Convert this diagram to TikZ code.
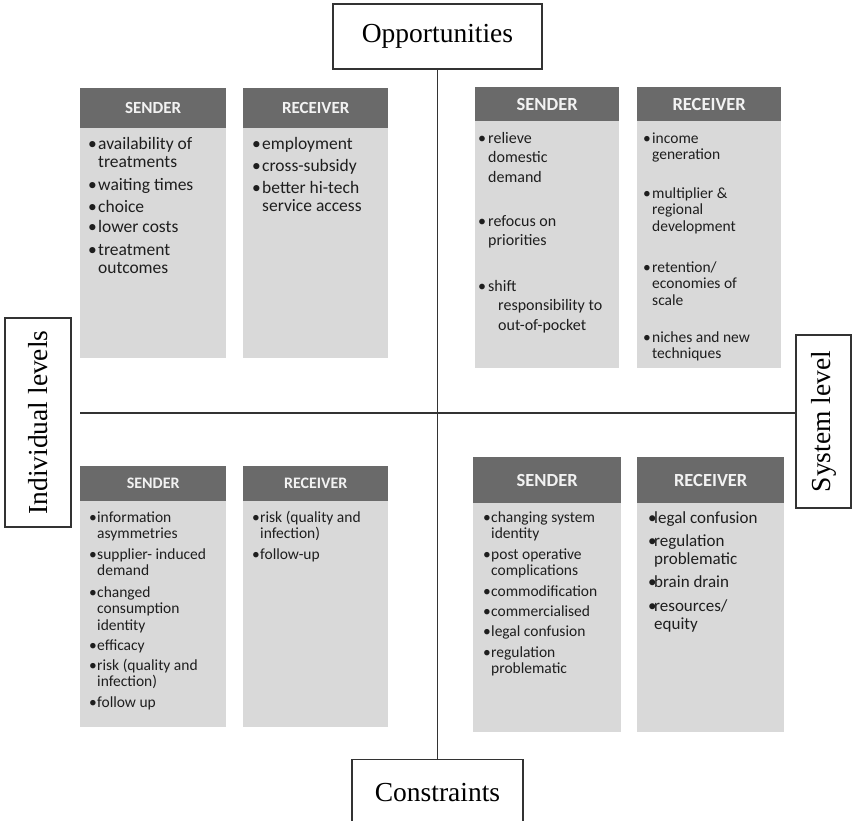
\documentclass[tikz,border=0pt]{standalone}
\usepackage{fontspec}
\usepackage{graphicx}
\setmainfont{Liberation Serif}
\newfontfamily\panelfont{Carlito}
\definecolor{hdrgray}{HTML}{6A6A6A}
\definecolor{bodygray}{HTML}{D9D9D9}
\definecolor{hdrtext}{HTML}{F2F2F2}
\definecolor{linegray}{HTML}{333333}
\definecolor{txtgray}{HTML}{1E1E1E}
\newcommand{\fsz}[2]{\fontsize{#1pt}{#2pt}\selectfont}
\newcommand{\bitem}[2]{\makebox[#1pt][l]{\textbullet}\begin{tabular}[t]{@{}l@{}}#2\end{tabular}}
\tikzset{
  labelbox/.style={draw=linegray, line width=1.2pt, fill=white, inner sep=0pt,
    font=\fsz{27.5}{30}, text=black},
  axisline/.style={draw=linegray, line width=1.2pt},
  panelbody/.style={fill=bodygray, draw=none, anchor=north west, inner sep=0pt},
  panelhead/.style={fill=hdrgray, draw=none, anchor=north west, inner sep=0pt, text=hdrtext},
  itemtext/.style={anchor=base west, inner sep=0pt, text=txtgray},
}
\begin{document}
\begin{tikzpicture}[x=1pt,y=-1pt]
\useasboundingbox (0,0) rectangle (853,820);

% axes and label boxes
\node[labelbox, minimum width=209pt, minimum height=65pt] (opp) at (437.5,36.5) {Opportunities};
\node[labelbox, minimum width=171pt, minimum height=66pt, anchor=north] (con) at (437.5,759) {Constraints};
\node[labelbox, minimum width=66pt, minimum height=209pt] (ind) at (38,422.5) {\rotatebox{90}{Individual levels}};
\node[labelbox, minimum width=55pt, minimum height=173pt] (sys) at (823.5,421.5) {\rotatebox{90}{System level}};
\coordinate (hstart) at (80,413);
\draw[axisline] (opp.south) -- (con.north);
\draw[axisline] (hstart) -- (hstart -| sys.west);

% ---------- top-left ----------
\node[panelbody, minimum width=146pt, minimum height=270pt] (tls) at (80,88) {};
\node[panelhead, minimum width=146pt, minimum height=40pt, font=\panelfont\bfseries\fsz{17}{20}] (tlsh) at (80,88) {SENDER};
\node[panelbody, minimum width=145pt, minimum height=270pt] (tlr) at (243,88) {};
\node[panelhead, minimum width=145pt, minimum height=40pt, font=\panelfont\bfseries\fsz{17}{20}] (tlrh) at (243,88) {RECEIVER};
\begin{scope}[every node/.append style={font=\panelfont\fsz{17.5}{18.5}}]
\node[itemtext] (tls1) at (88,149) {\bitem{10}{availability of\\treatments}};
\node[itemtext] (tls2) at (88,190) {\bitem{10}{waiting times}};
\node[itemtext] (tls3) at (88,212) {\bitem{10}{choice}};
\node[itemtext] (tls4) at (88,232) {\bitem{10}{lower costs}};
\node[itemtext] (tls5) at (88,255) {\bitem{10}{treatment\\outcomes}};
\node[itemtext] (tlr1) at (252,149) {\bitem{10}{employment}};
\node[itemtext] (tlr2) at (252,171) {\bitem{10}{cross-subsidy}};
\node[itemtext] (tlr3) at (252,193) {\bitem{10}{better hi-tech\\service access}};
\end{scope}

% ---------- top-right ----------
\node[panelbody, minimum width=144pt, minimum height=281pt] (trs) at (475,87) {};
\node[panelhead, minimum width=144pt, minimum height=34pt, font=\panelfont\bfseries\fsz{18.5}{20}] (trsh) at (475,87) {SENDER};
\node[panelbody, minimum width=144pt, minimum height=281pt] (trr) at (637,87) {};
\node[panelhead, minimum width=144pt, minimum height=34pt, font=\panelfont\bfseries\fsz{18.5}{20}] (trrh) at (637,87) {RECEIVER};
\begin{scope}[every node/.append style={font=\panelfont\fsz{16}{19.5}}]
\node[itemtext] (trs1) at (478,143) {\bitem{10}{relieve\\domestic\\demand}};
\node[itemtext] (trs2) at (478,226) {\bitem{10}{refocus on\\priorities}};
\node[itemtext] (trs3) at (478,291) {\bitem{10}{shift\\\hspace{10pt}responsibility to\\\hspace{10pt}out-of-pocket}};
\end{scope}
\begin{scope}[every node/.append style={font=\panelfont\fsz{15.5}{16.5}}]
\node[itemtext] (trr1) at (643,143) {\bitem{9}{income\\generation}};
\node[itemtext] (trr2) at (643,198) {\bitem{9}{multiplier \&\\regional\\development}};
\node[itemtext] (trr3) at (643,272) {\bitem{9}{retention/\\economies of\\scale}};
\node[itemtext] (trr4) at (643,342) {\bitem{9}{niches and new\\techniques}};
\end{scope}

% ---------- bottom-left ----------
\node[panelbody, minimum width=146pt, minimum height=261pt] (bls) at (80,466) {};
\node[panelhead, minimum width=146pt, minimum height=35pt, font=\panelfont\bfseries\fsz{16}{18}] (blsh) at (80,466) {SENDER};
\node[panelbody, minimum width=145pt, minimum height=261pt] (blr) at (243,466) {};
\node[panelhead, minimum width=145pt, minimum height=35pt, font=\panelfont\bfseries\fsz{16}{18}] (blrh) at (243,466) {RECEIVER};
\begin{scope}[every node/.append style={font=\panelfont\fsz{15.5}{16.5}}]
\node[itemtext] (bls1) at (89,522) {\bitem{8}{information\\asymmetries}};
\node[itemtext] (bls2) at (89,559) {\bitem{8}{supplier- induced\\demand}};
\node[itemtext] (bls3) at (89,597) {\bitem{8}{changed\\consumption\\identity}};
\node[itemtext] (bls4) at (89,650) {\bitem{8}{efficacy}};
\node[itemtext] (bls5) at (89,670) {\bitem{8}{risk (quality and\\infection)}};
\node[itemtext] (bls6) at (89,707) {\bitem{8}{follow up}};
\node[itemtext] (blr1) at (252,522) {\bitem{8}{risk (quality and\\infection)}};
\node[itemtext] (blr2) at (252,559) {\bitem{8}{follow-up}};
\end{scope}

% ---------- bottom-right ----------
\node[panelbody, minimum width=148pt, minimum height=275pt] (brs) at (473,457) {};
\node[panelhead, minimum width=148pt, minimum height=46pt, font=\panelfont\bfseries\fsz{18.5}{20}] (brsh) at (473,457) {SENDER};
\node[panelbody, minimum width=147pt, minimum height=275pt] (brr) at (637,457) {};
\node[panelhead, minimum width=147pt, minimum height=46pt, font=\panelfont\bfseries\fsz{18.5}{20}] (brrh) at (637,457) {RECEIVER};
\begin{scope}[every node/.append style={font=\panelfont\fsz{15.5}{16.5}}]
\node[itemtext] (brs1) at (483,522) {\bitem{8}{changing system\\identity}};
\node[itemtext] (brs2) at (483,559) {\bitem{8}{post operative\\complications}};
\node[itemtext] (brs3) at (483,596) {\bitem{8}{commodification}};
\node[itemtext] (brs4) at (483,616) {\bitem{8}{commercialised}};
\node[itemtext] (brs5) at (483,636) {\bitem{8}{legal confusion}};
\node[itemtext] (brs6) at (483,657) {\bitem{8}{regulation\\problematic}};
\end{scope}
\begin{scope}[every node/.append style={font=\panelfont\fsz{17}{18}}]
\node[itemtext] (brr1) at (648,523) {\bitem{6}{legal confusion}};
\node[itemtext] (brr2) at (648,546) {\bitem{6}{regulation\\problematic}};
\node[itemtext] (brr3) at (648,587) {\bitem{6}{brain drain}};
\node[itemtext] (brr4) at (648,611) {\bitem{6}{resources/\\equity}};
\end{scope}
\end{tikzpicture}
\end{document}
